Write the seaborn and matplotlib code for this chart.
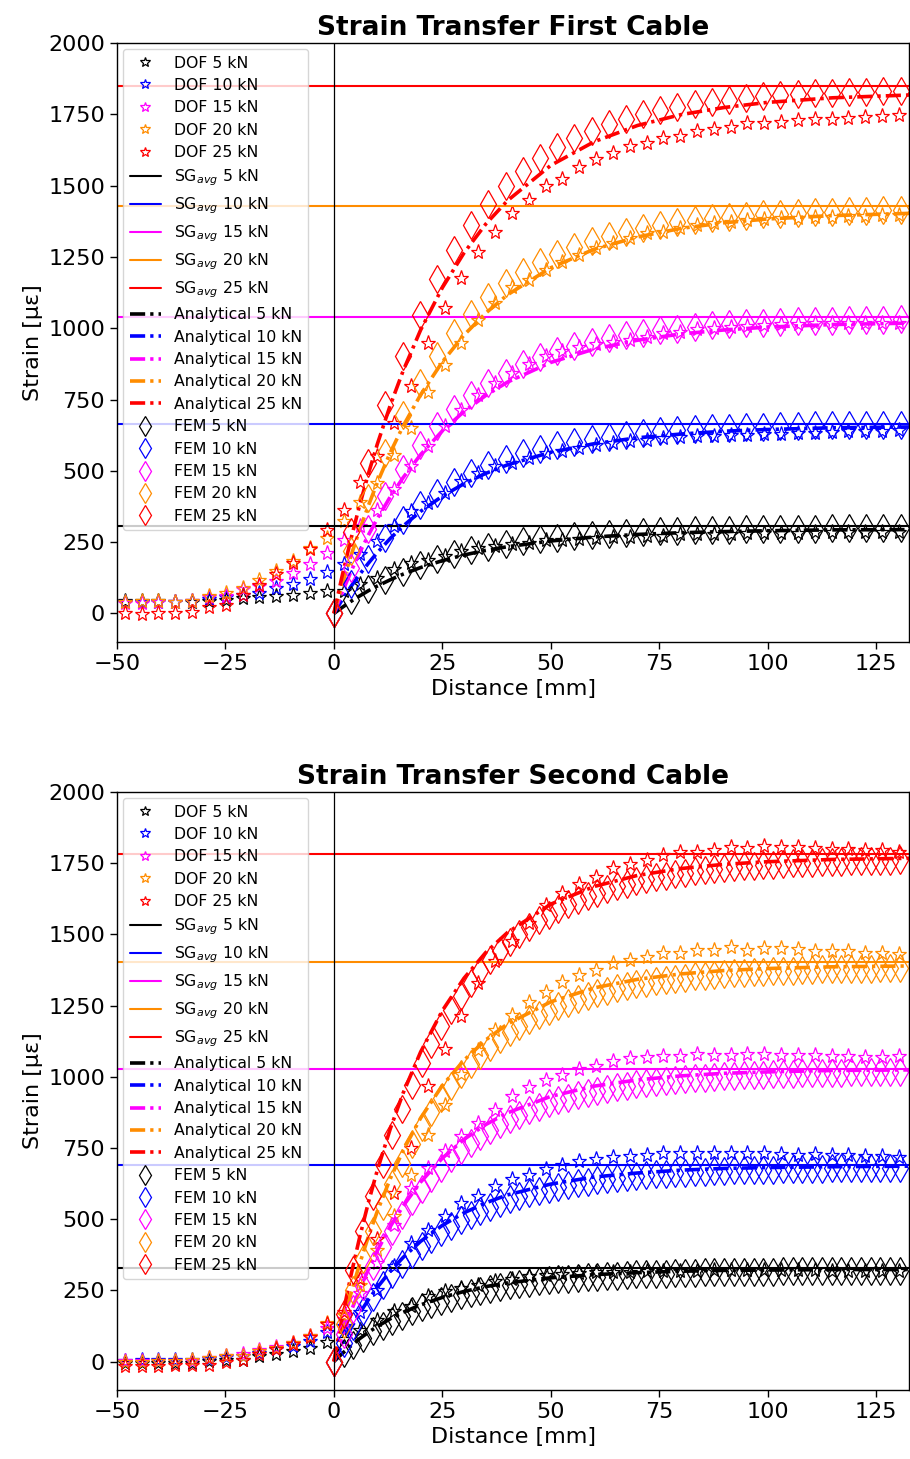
import numpy as np
import matplotlib
matplotlib.use("Agg")
import matplotlib.pyplot as plt
import seaborn as sns

sns.set_style("ticks")
plt.rcParams["font.family"] = ["DejaVu Sans"]
plt.rcParams.update({"text.color": "black", "axes.labelcolor": "black",
                     "xtick.color": "black", "ytick.color": "black",
                     "axes.edgecolor": "black"})

loads = ["5 kN", "10 kN", "15 kN", "20 kN", "25 kN"]
colors = ["black", "blue", "magenta", "darkorange", "red"]

# sampling positions [mm]
dof_x = np.round(-48.2 + 3.88 * np.arange(47), 2)
ana_x = [0, 2, 4, 6, 8, 10, 13, 16, 20, 25, 30, 35, 40, 50, 60, 70, 80, 90, 100, 115, 133]
fem1_x = np.round(3.96 * np.arange(34), 2)
fem2_x = np.round(2.25 * np.arange(59), 2)

# ---------------- First cable ----------------
sg1 = [305, 665, 1040, 1428, 1850]

dof1_5 = [42, 42, 42, 40, 40, 45, 48, 55, 58, 62, 66, 70, 78,
          80, 102, 125, 156, 177, 189, 201, 218, 230, 236, 242, 248, 257, 259, 261, 265, 267,
          268, 271, 273, 277, 277, 280, 280, 283, 282, 283, 283, 284, 284, 285, 285, 286, 286]
dof1_10 = [40, 40, 40, 40, 42, 50, 56, 64, 72, 88, 102, 122, 145,
           175, 207, 255, 306, 358, 388, 423, 463, 493, 516, 528, 545, 563, 568, 580, 592, 598,
           603, 609, 615, 619, 621, 623, 627, 627, 630, 630, 633, 633, 635, 638, 638, 641, 642]
dof1_15 = [38, 38, 40, 40, 43, 58, 61, 84, 96, 113, 142, 175, 212,
           259, 305, 364, 437, 516, 588, 656, 714, 767, 808, 843, 875, 901, 920, 935, 945, 952,
           959, 971, 983, 988, 997, 1000, 1006, 1008, 1012, 1015, 1016, 1018, 1018, 1019, 1019, 1020, 1020]
dof1_20 = [40, 42, 42, 40, 43, 61, 72, 90, 119, 148, 183, 230, 265,
           323, 389, 458, 557, 650, 778, 872, 950, 1029, 1088, 1146, 1170, 1204, 1234, 1257, 1283, 1298,
           1316, 1333, 1339, 1350, 1362, 1368, 1374, 1380, 1382, 1385, 1388, 1389, 1391, 1393, 1395, 1396, 1397]
dof1_25 = [2, -3, 0, 0, 5, 23, 31, 66, 98, 137, 177, 226, 294,
           364, 460, 551, 668, 796, 948, 1070, 1175, 1269, 1339, 1403, 1450, 1499, 1525, 1564, 1592, 1613,
           1639, 1648, 1666, 1674, 1692, 1697, 1706, 1718, 1720, 1724, 1730, 1732, 1735, 1738, 1741, 1743, 1748]

ana1_5 = [0, 22, 43, 62, 80, 96, 118, 138, 161, 185, 205, 221, 234, 254, 268, 277, 283, 287, 290, 293, 294]
ana1_10 = [0, 50, 96, 138, 177, 213, 263, 307, 358, 411, 455, 491, 521, 565, 595, 616, 629, 639, 645, 651, 654]
ana1_15 = [0, 77, 149, 215, 276, 332, 409, 477, 557, 640, 708, 764, 811, 880, 927, 958, 980, 994, 1004, 1013, 1018]
ana1_20 = [0, 106, 205, 296, 380, 458, 564, 658, 767, 882, 976, 1053, 1117, 1212, 1277, 1320, 1350, 1370, 1383, 1395, 1403]
ana1_25 = [0, 138, 265, 383, 492, 593, 730, 852, 994, 1142, 1264, 1365, 1447, 1571, 1654, 1711, 1749, 1774, 1792, 1808, 1818]

fem1_5 = [0, 47, 86, 119, 147, 171, 191, 208, 222, 234, 244, 253, 260, 266, 272, 276, 280,
          283, 286, 288, 290, 291, 293, 294, 295, 296, 296, 297, 297, 298, 298, 298, 299, 299]
fem1_10 = [0, 103, 190, 264, 326, 379, 423, 461, 492, 519, 542, 561, 577, 591, 602, 612, 620,
           627, 633, 638, 642, 646, 649, 651, 653, 655, 657, 658, 659, 660, 661, 661, 662, 662]
fem1_15 = [0, 161, 296, 411, 507, 589, 658, 717, 766, 808, 843, 873, 898, 919, 937, 952, 965,
           976, 985, 993, 999, 1005, 1010, 1014, 1017, 1020, 1022, 1024, 1026, 1027, 1028, 1029, 1030, 1031]
fem1_20 = [0, 220, 406, 563, 696, 809, 903, 983, 1051, 1108, 1157, 1197, 1232, 1261, 1286, 1307, 1324,
           1339, 1352, 1362, 1371, 1379, 1385, 1391, 1395, 1399, 1402, 1405, 1407, 1409, 1411, 1412, 1414, 1415]
fem1_25 = [0, 285, 526, 730, 902, 1048, 1171, 1274, 1362, 1436, 1499, 1552, 1596, 1634, 1666, 1693, 1716,
           1735, 1752, 1765, 1777, 1787, 1795, 1802, 1808, 1813, 1817, 1821, 1824, 1826, 1828, 1830, 1832, 1833]

# ---------------- Second cable ----------------
sg2 = [330, 691, 1028, 1403, 1782]

dof2_5 = [-5, -5, -5, -5, -5, 1, 7, 7, 19, 25, 36, 48, 68,
          80, 110, 145, 177, 194, 229, 247, 259, 269, 282, 288, 299, 303, 308, 310, 313, 315,
          316, 318, 318, 318, 319, 320, 320, 320, 321, 320, 320, 320, 319, 319, 318, 318, 318]
dof2_10 = [1, 5, 5, 7, 7, 9, 16, 19, 30, 45, 54, 71, 103,
           125, 175, 250, 334, 416, 463, 510, 557, 580, 615, 641, 656, 676, 691, 703, 711, 717,
           723, 726, 732, 732, 732, 732, 732, 732, 732, 730, 726, 728, 726, 726, 723, 720, 718]
dof2_15 = [1, 1, 2, 3, 3, 13, 21, 25, 40, 52, 64, 88, 117,
           150, 240, 346, 480, 609, 680, 740, 791, 838, 884, 933, 963, 987, 1007, 1027, 1039, 1054,
           1066, 1071, 1072, 1074, 1081, 1078, 1078, 1081, 1081, 1078, 1076, 1076, 1073, 1073, 1071, 1071, 1073]
dof2_20 = [-2, -2, 1, 1, 7, 13, 21, 21, 36, 48, 66, 91, 136,
           165, 270, 390, 512, 656, 796, 902, 1010, 1095, 1165, 1218, 1261, 1299, 1331, 1358, 1375, 1399,
           1411, 1420, 1434, 1434, 1446, 1446, 1455, 1446, 1451, 1451, 1448, 1443, 1443, 1443, 1436, 1436, 1432]
dof2_25 = [-16, -16, -16, -14, -14, -11, -2, 5, 25, 45, 60, 87, 130,
           175, 290, 430, 592, 750, 966, 1097, 1212, 1329, 1405, 1475, 1539, 1604, 1644, 1677, 1703, 1734,
           1746, 1761, 1779, 1790, 1790, 1795, 1806, 1802, 1811, 1806, 1806, 1802, 1799, 1799, 1796, 1796, 1790]

ana2_5 = [0, 29, 56, 81, 103, 123, 150, 173, 199, 225, 246, 263, 276, 294, 305, 312, 317, 320, 321, 323, 323]
ana2_10 = [0, 62, 119, 171, 218, 260, 317, 366, 422, 478, 522, 557, 585, 623, 648, 662, 672, 678, 681, 684, 686]
ana2_15 = [0, 93, 178, 255, 325, 389, 474, 547, 630, 714, 780, 832, 873, 931, 967, 989, 1003, 1012, 1017, 1022, 1024]
ana2_20 = [0, 126, 242, 346, 441, 527, 642, 742, 855, 969, 1058, 1129, 1185, 1263, 1312, 1342, 1361, 1373, 1380, 1386, 1389]
ana2_25 = [0, 161, 307, 440, 561, 671, 817, 944, 1087, 1232, 1346, 1436, 1506, 1606, 1668, 1707, 1731, 1746, 1755, 1763, 1767]

fem2_5 = [0, 30, 58, 83, 106, 126, 144, 161, 176, 190, 202, 213, 224, 233, 241, 249, 255, 262, 267, 272,
          277, 281, 285, 288, 291, 294, 296, 298, 301, 302, 304, 306, 307, 308, 309, 310, 311, 312, 313, 314,
          314, 315, 315, 316, 316, 316, 317, 317, 317, 318, 318, 318, 318, 318, 319, 319, 319, 319, 319]
fem2_10 = [0, 65, 124, 177, 225, 268, 308, 343, 376, 405, 431, 455, 477, 496, 514, 530, 544, 557, 569, 580,
           590, 598, 606, 614, 620, 626, 631, 636, 641, 644, 648, 651, 654, 657, 659, 661, 663, 665, 667, 668,
           670, 671, 672, 673, 674, 674, 675, 676, 676, 677, 677, 678, 678, 679, 679, 679, 679, 680, 680]
fem2_15 = [0, 97, 185, 264, 336, 401, 460, 513, 562, 605, 645, 680, 713, 742, 768, 792, 814, 834, 851, 867,
           882, 895, 907, 918, 927, 936, 944, 951, 958, 964, 969, 974, 978, 982, 986, 989, 992, 995, 997, 999,
           1001, 1003, 1005, 1006, 1007, 1009, 1010, 1011, 1012, 1012, 1013, 1014, 1014, 1015, 1015, 1016, 1016, 1017, 1017]
fem2_20 = [0, 132, 251, 359, 457, 545, 625, 698, 763, 822, 876, 925, 969, 1008, 1044, 1077, 1106, 1133, 1157, 1179,
           1198, 1216, 1232, 1247, 1260, 1272, 1283, 1293, 1302, 1310, 1317, 1324, 1329, 1335, 1340, 1344, 1348, 1352, 1355, 1358,
           1361, 1363, 1365, 1367, 1369, 1371, 1372, 1373, 1375, 1376, 1377, 1378, 1378, 1379, 1380, 1380, 1381, 1381, 1382]
fem2_25 = [0, 168, 320, 457, 582, 695, 796, 888, 972, 1047, 1116, 1177, 1233, 1284, 1330, 1371, 1409, 1443, 1473, 1501,
           1526, 1549, 1569, 1588, 1605, 1620, 1634, 1646, 1658, 1668, 1677, 1686, 1693, 1700, 1706, 1712, 1717, 1721, 1725, 1729,
           1733, 1736, 1739, 1741, 1743, 1745, 1747, 1749, 1751, 1752, 1753, 1754, 1755, 1756, 1757, 1758, 1758, 1759, 1760]

panels = [
    dict(title="Strain Transfer First Cable", sg=sg1,
         dof=[dof1_5, dof1_10, dof1_15, dof1_20, dof1_25],
         ana=[ana1_5, ana1_10, ana1_15, ana1_20, ana1_25],
         fem_x=fem1_x, fem=[fem1_5, fem1_10, fem1_15, fem1_20, fem1_25]),
    dict(title="Strain Transfer Second Cable", sg=sg2,
         dof=[dof2_5, dof2_10, dof2_15, dof2_20, dof2_25],
         ana=[ana2_5, ana2_10, ana2_15, ana2_20, ana2_25],
         fem_x=fem2_x, fem=[fem2_5, fem2_10, fem2_15, fem2_20, fem2_25]),
]

fig = plt.figure(figsize=(9.1, 14.59), dpi=100)
ax_rects = [[0.1286, 0.5600, 0.8703, 0.4105], [0.1286, 0.0473, 0.8703, 0.4099]]
dashdot = (0, (4.2, 1.4, 0.9, 1.4))

for rect, p in zip(ax_rects, panels):
    ax = fig.add_axes(rect)
    for vals, c, ld in zip(p["dof"], colors, loads):
        sns.lineplot(x=dof_x[:len(vals)], y=vals, ax=ax, color=c, linestyle="none",
                     marker="*", markersize=11, mfc="none", mec=c, mew=0.9,
                     errorbar=None, label=f"DOF {ld}", legend=False)
    for v, c, ld in zip(p["sg"], colors, loads):
        ax.axhline(v, color=c, lw=1.5, label=r"SG$_{avg}$ " + ld)
    for vals, c, ld in zip(p["ana"], colors, loads):
        sns.lineplot(x=ana_x[:len(vals)], y=vals, ax=ax, color=c, linestyle=dashdot,
                     lw=2.6, errorbar=None, label=f"Analytical {ld}", legend=False)
    for vals, c, ld in zip(p["fem"], colors, loads):
        sns.lineplot(x=p["fem_x"][:len(vals)], y=vals, ax=ax, color=c, linestyle="none",
                     marker="d", markersize=14, mfc="none", mec=c, mew=0.9,
                     errorbar=None, label=f"FEM {ld}", legend=False)
    ax.axvline(0, color="black", lw=0.9)
    ax.set_xlim(-50, 132.6)
    ax.set_ylim(-100, 2000)
    ax.set_xticks([-50, -25, 0, 25, 50, 75, 100, 125])
    ax.set_yticks([0, 250, 500, 750, 1000, 1250, 1500, 1750, 2000])
    ax.tick_params(labelsize=16, length=5, width=1, colors="black")
    ax.set_xlabel("Distance [mm]", fontsize=16)
    ax.set_ylabel("Strain [µε]", fontsize=16)
    ax.set_title(p["title"], fontsize=19, fontweight="bold")
    for s in ax.spines.values():
        s.set_linewidth(1.0)
        s.set_color("black")
    ax.legend(loc="upper left", fontsize=11.3, markerscale=0.7, handlelength=2.0,
              labelspacing=0.47, borderaxespad=0.4, framealpha=0.8)

fig.savefig("out.png", dpi=100)
